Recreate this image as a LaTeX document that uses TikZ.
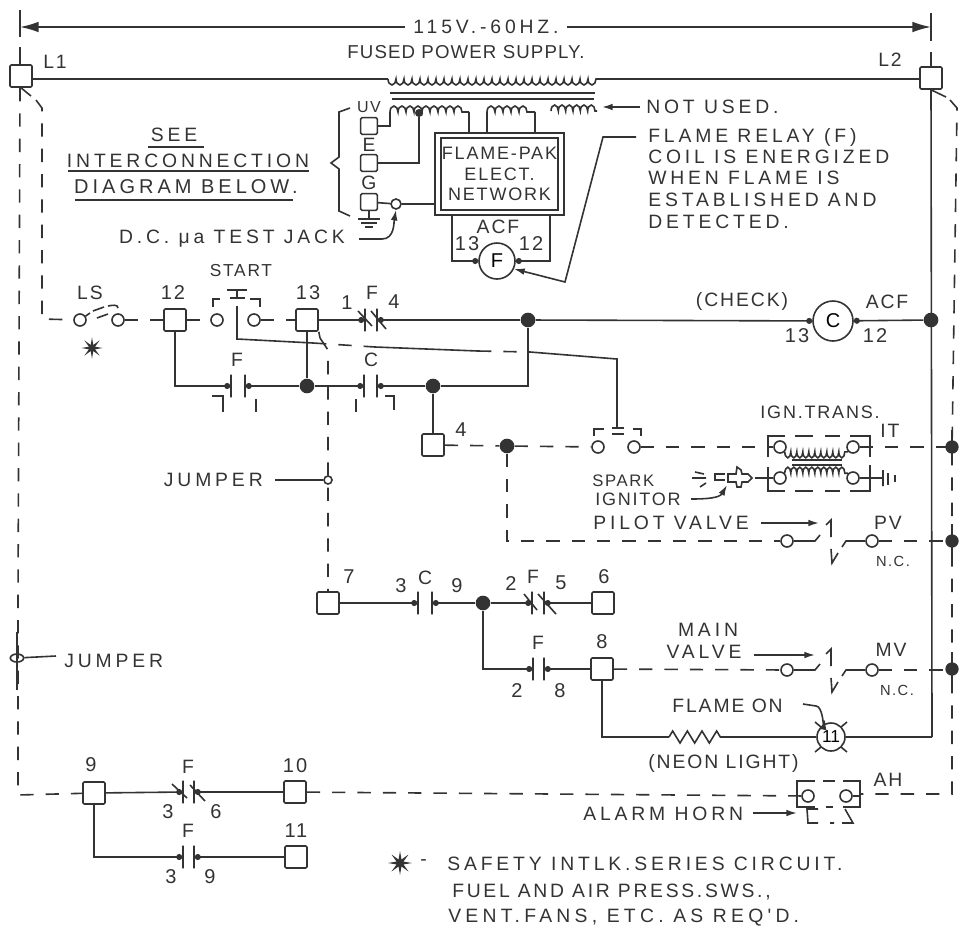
\documentclass[tikz,border=0pt]{standalone}
\usepackage{fontspec}
\setmainfont{Liberation Sans}
\newfontfamily\handfont[LetterSpace=10]{Liberation Sans}
\newfontfamily\handwide[LetterSpace=20]{Liberation Sans}
\usetikzlibrary{arrows.meta,shapes.geometric,decorations.pathmorphing}
\definecolor{ink}{gray}{0.2}
\tikzset{
    lab/.style={inner sep=0pt, text=ink, font=\handfont\fontsize{14.5}{16}\selectfont},
    labwide/.style={inner sep=0pt, text=ink, font=\handwide\fontsize{14.5}{16}\selectfont},
    num/.style={inner sep=0pt, text=ink, font=\handfont\fontsize{15}{16}\selectfont},
    term/.style={draw=ink, line width=1.2pt, fill=white, rounded corners=1pt, minimum size=16.5pt, inner sep=0pt},
    smallterm/.style={term, minimum size=12.5pt},
    pin/.style={circle, draw=ink, line width=1.2pt, fill=white, minimum size=9pt, inner sep=0pt},
    dot/.style={circle, fill=ink, minimum size=11pt, inner sep=0pt},
    plate/.style={draw=ink, line width=1.2pt, minimum height=17pt, minimum width=0pt, inner sep=0pt},
    coilcirc/.style={circle, draw=ink, line width=1.2pt, fill=white, minimum size=27pt, inner sep=0pt},
    wire/.style={draw=ink, line width=1.2pt},
    dashwire/.style={wire, dash pattern=on 10pt off 9pt},
    blob/.style={wire, -{Circle[length=4.5pt]}},
    pointer/.style={wire, -{Latex[length=8pt,width=5pt]}},
    humps/.style={wire, decorate, decoration={bumps, segment length=#1, amplitude=4.5pt}},
    sixpt/.style={star, star points=8, star point ratio=3.2, fill=ink, minimum size=16pt, inner sep=0pt},
}

\begin{document}
\begin{tikzpicture}[x=0.75pt, y=-0.75pt]
    \useasboundingbox (0,0) rectangle (969,932);

    % supply
    \node[labwide] (volts) at (486,27) {115V.-60HZ.};
    \node[lab, font=\handfont\fontsize{14}{16}\selectfont\addfontfeature{LetterSpace=6}] (fused) at (466,52) {FUSED POWER SUPPLY.};
    \coordinate (dimL) at (20,27);
    \coordinate (dimR) at (931,27);
    \draw[pointer, -{Latex[length=14pt,width=8pt]}] (volts.west) ++ (-8,0) -- (dimL);
    \draw[pointer, -{Latex[length=14pt,width=8pt]}] (volts.east) ++ (8,0) -- (dimR);
    \draw[wire] (20,10) -- (20,37) (931,13) -- (931,41) (20,47) -- (20,65) (931,52) -- (931,67);

    \node[term] (L1) at (21,76) {};
    \node[term] (L2) at (931,78) {};
    \node[lab] (L1txt) at (55,62) {L1};
    \node[lab] (L2txt) at (890,60) {L2};

    \coordinate (priL) at (388,79);
    \coordinate (priR) at (597,79);
    \draw[wire] (L1.east |- priL) -- (priL);
    \draw[wire] (priR) -- (L2.west |- priR);
    \draw[humps=12pt, decoration={mirror}] (priL) -- (priR);
    \draw[wire] (390,93) -- (595,93) (392,99) -- (594,99);

    % secondaries
    \node[lab, font=\handfont\fontsize{12}{13}\selectfont] (uvtxt) at (369,107) {UV};
    \node[lab] (etxt) at (369,145) {E};
    \node[lab] (gtxt) at (369,183) {G};
    \node[smallterm] (uv) at (369,126) {};
    \node[smallterm] (e) at (369,163) {};
    \node[smallterm] (g) at (369,202) {};
    \node[circle, fill=ink, minimum size=6pt, inner sep=0pt] (tap) at (419,113) {};
    \coordinate (sec1L) at (390,112);
    \coordinate (sec1R) at (469,112);
    \coordinate (sec2L) at (487,112);
    \coordinate (sec2R) at (535,112);
    \coordinate (sec3L) at (551,111);
    \coordinate (sec3R) at (597,111);
    \draw[humps=12pt] (sec1L) -- (sec1R);
    \draw[humps=12pt] (sec2L) -- (sec2R);
    \draw[humps=11pt] (sec3L) -- (sec3R);
    \draw[wire] (uv) -| (sec1L);
    \draw[wire] (e) -| (tap);
    \draw[wire] (350,108) -- (339,112) -- (339,157) -- (331,163) -- (339,169) -- (339,211) -- (350,216);

    \node[draw=ink, line width=1.2pt, minimum width=96.5pt, minimum height=61.5pt, inner sep=0pt] (net) at (499.5,174) {};
    \node[draw=ink, line width=1.2pt, minimum width=88pt, minimum height=54pt, align=center, text=ink, inner sep=0pt, font=\handfont\fontsize{13.5}{15}\selectfont] (netin) at (499.5,174) {FLAME-PAK\\[0.5pt]ELECT.\\[0.5pt]NETWORK};
    \draw[wire] (sec1R) -- (sec1R |- net.north);
    \draw[wire] (sec2L) -- (sec2L |- net.north);
    \draw[wire] (sec2R) -- (sec2R |- net.north);

    \node[pin, minimum size=7.5pt] (jack) at (396,204) {};
    \draw[wire] (g) -- (jack);
    \draw[wire] (jack) -- (net.west |- jack);
    \draw[wire] (g) -- (369,219);
    \draw[wire] (358,219) -- (380,219) (361,223) -- (377,223) (365,227) -- (373,227);
    \node[labwide] (jacktxt) at (232,239) {D.C. μa TEST JACK};
    \draw[pointer] (359,239) -- (382,239) to[out=0, in=-100] (jack.south);

    \node[coilcirc] (relay) at (497,261) {\fontsize{15}{16}\selectfont F};
    \node[lab] (acfa) at (498,227) {ACF};
    \node[num] (n13a) at (467,244) {13};
    \node[num] (n12a) at (531,244) {12};
    \coordinate (netL) at (452,215);
    \coordinate (netR) at (550,215);
    \draw[blob] (netL) |- (relay.west);
    \draw[blob] (netR) |- (relay.east);

    \node[labwide, anchor=west] (notused) at (646,107) {NOT USED.};
    \coordinate (nuend) at (602,107);
    \draw[pointer] (notused.west) ++ (-6,0) -- (nuend);
    \node[labwide, anchor=west] (fr1) at (648,137) {FLAME RELAY (F)};
    \node[labwide, anchor=west] (fr2) at (648,157) {COIL IS ENERGIZED};
    \node[labwide, anchor=west] (fr3) at (648,178) {WHEN FLAME IS};
    \node[labwide, anchor=west] (fr4) at (648,200) {ESTABLISHED AND};
    \node[labwide, anchor=west] (fr5) at (648,222) {DETECTED.};
    \draw[pointer] (fr1.west) ++ (-12,0) -- (603,137) -- (565,282) -- (relay.-25);

    \node[labwide] (see) at (174,135) {SEE};
    \node[labwide] (inter) at (188,161) {INTERCONNECTION};
    \node[labwide, font=\handwide\fontsize{15}{16}\selectfont] (below) at (186,187) {DIAGRAM BELOW.};
    \draw[wire] (148,147) -- (204,147) (68,171) -- (309,171) (75,200) -- (293,200);

    % top rung
    \node[pin] (lsa) at (80,320) {};
    \node[pin] (lsb) at (118,320) {};
    \coordinate (L1drop) at (42,319);
    \draw[wire] (L1.south) -- (31,96);
    \draw[dashwire] (36,100) -- (42,108) -- (L1drop) -- (lsa);
    \draw[wire] (lsa) -- (90,313) (93,311) -- (104,307) (97,318) -- (108,314);
    \draw[wire] (108,306) to[out=10, in=90] (118,308);
    \node[lab] (lstxt) at (90,293) {LS};
    \node[sixpt] (star1) at (92,348) {};
    \node[term] (t12) at (175,320) {};
    \node[num] (t12txt) at (173,293) {12};
    \node[pin] (sta) at (217,320) {};
    \node[pin] (stb) at (254,320) {};
    \node[term] (t13) at (307,320) {};
    \node[num] (t13txt) at (308,293) {13};
    \draw[dashwire] (lsb) -- (t12);
    \draw[dashwire] (t12) -- (sta);
    \draw[dashwire] (stb) -- (t13);
    \node[lab, font=\handfont\fontsize{13}{15}\selectfont] (starttxt) at (241,271) {START};
    \draw[wire] (220,299) -- (213,299) -- (213,307) (250,299) -- (260,299) -- (260,307);
    \draw[wire] (227,290) -- (247,290) (237,290) -- (237,298) (230,298) -- (245,298);

    \node[plate] (f4a) at (365,320) {};
    \node[plate] (f4b) at (377,320) {};
    \node[dot] (n1) at (528,320) {};
    \node[coilcirc, minimum size=30pt] (check) at (833,321) {\fontsize{15}{16}\selectfont C};
    \node[dot] (n2) at (931,320) {};
    \draw[blob] (t13) -- (f4a);
    \draw[blob] (n1) -- (f4b);
    \draw[wire] (358,311) -- (372,326) (371,311) -- (386,329);
    \draw[blob] (n1) -- (check);
    \draw[blob] (n2) -- (check);
    \node[num] (f41) at (347,303) {1};
    \node[lab] (f4f) at (372,293) {F};
    \node[num] (f44) at (394,302) {4};
    \node[lab] (checktxt) at (742,301) {(CHECK)};
    \node[num] (c13) at (797,336) {13};
    \node[lab] (acfc) at (887,302) {ACF};
    \node[num] (c12) at (875,336) {12};

    % second rung
    \node[plate] (f1a) at (231,386) {};
    \node[plate] (f1b) at (245,386) {};
    \node[dot] (n3) at (307,386) {};
    \node[plate] (c1a) at (364,386) {};
    \node[plate] (c1b) at (377,386) {};
    \node[dot] (n4) at (433,386) {};
    \node[term] (t4) at (433,445) {};
    \node[num] (t4txt) at (461,430) {4};
    \draw[blob] (t12) |- (f1a);
    \draw[blob] (n3) -- (f1b);
    \draw[blob] (n3) -- (c1a);
    \draw[blob] (n4) -- (c1b);
    \draw[wire] (t13) -- (n3);
    \draw[wire] (n4) -- (t4);
    \draw[wire] (n4) -| (n1);
    \node[lab] (f1txt) at (237,360) {F};
    \node[lab] (c1txt) at (371,360) {C};
    \draw[wire] (212,396) -- (223,396) -- (223,412) (256,399) -- (256,412) (356,399) -- (356,412) (385,396) -- (394,396) -- (394,410);

    % start stem
    \coordinate (stem) at (237,306);
    \coordinate (stem1) at (237,339);
    \coordinate (stem2) at (313,343);
    \coordinate (stem3) at (375,347);
    \coordinate (stem4) at (478,351);
    \coordinate (stem5) at (530,352);
    \coordinate (stem6) at (617,359);
    \coordinate (stem7) at (617,427);
    \draw[wire] (stem) -- (stem1) -- (stem2);
    \draw[dashwire] (stem2) -- (stem3);
    \draw[wire] (stem3) -- (stem4);
    \draw[dashwire] (stem4) -- (stem5);
    \draw[wire] (stem5) -- (stem6) -- (stem7);

    % jumper from 13 down to 7
    \node[term] (t7) at (328,603) {};
    \node[num] (t7txt) at (349,577) {7};
    \coordinate (jmp) at (328,350);
    \draw[wire] (t13.south east) -- (320,338);
    \draw[dashwire] (320,338) -- (jmp) -- (t7);
    \node[circle, draw=ink, line width=1.2pt, fill=white, minimum size=6pt, inner sep=0pt] (jmpa) at (328,480) {};
    \node[labwide, anchor=east] (jmpatxt) at (263,480) {JUMPER};
    \draw[wire] (jmpatxt.east) ++ (12,0) -- (jmpa);

    % ignition
    \node[dot] (n5) at (507,446) {};
    \node[pin] (ita) at (598,447) {};
    \node[pin] (itb) at (634,447) {};
    \node[pin] (it1) at (780,447) {};
    \node[pin] (it2) at (853,447) {};
    \node[pin] (it3) at (780,478) {};
    \node[pin] (it4) at (853,478) {};
    \draw[dashwire] (t4) -- (n5);
    \draw[dashwire] (n5) -- (ita);
    \draw[dashwire] (itb) -- (it1);
    \draw[dashwire] (it2) -- (952,447);
    \draw[wire] (604,429) -- (594,429) -- (594,436) (612,428) -- (624,428) (612,434) -- (624,434) (633,429) -- (641,429) -- (641,436);
    \draw[humps=9pt, decoration={mirror}] (it1.-45) -- (it2.-135);
    \draw[humps=9pt] (it3.45) -- (it4.135);
    \draw[wire] (792,460) -- (842,460) (792,465) -- (842,465);
    \draw[wire] (768,457) -- (768,436) -- (785,436) (795,436) -- (813,436) (825,436) -- (840,436) (850,436) -- (870,436) -- (870,457);
    \draw[wire] (768,467) -- (768,491) -- (785,491) (795,491) -- (813,491) (825,491) -- (840,491) (850,491) -- (870,491) -- (870,465);
    \node[lab, font=\handfont\fontsize{13.5}{15}\selectfont] (igntxt) at (820,412) {IGN.TRANS.};
    \node[lab] (ittxt) at (890,431) {IT};
    \node[plate, minimum height=12pt] (gnd) at (883,478) {};
    \draw[wire] (it4) -- (gnd);
    \draw[wire] (888,473) -- (888,485) (895,475) -- (895,482);
    \draw[wire] (755,478) -- (it3);
    \draw[wire] (695,472) -- (704,474) (692,478) -- (706,478) (700,487) -- (706,483);
    \draw[wire] (725,474) -- (715,474) -- (715,480) -- (725,480);
    \draw[wire] (728,474) -- (736,474) -- (737,467) -- (741,470) -- (742,474) -- (748,474) -- (752,478) -- (748,482) -- (742,482) -- (741,487) -- (737,487) -- (736,482) -- (728,482) -- cycle;
    \node[lab, anchor=west, font=\handfont\fontsize{12.5}{15}\selectfont] (sparka) at (592,481) {SPARK};
    \node[lab, anchor=west, font=\handfont\fontsize{13.5}{15}\selectfont] (sparkb) at (595,499) {IGNITOR};
    \draw[pointer] (sparkb.east) ++ (10,0) to[out=0, in=-120] (727,485);

    % valves
    \node[labwide, anchor=west] (pilottxt) at (593,523) {PILOT VALVE};
    \draw[pointer] (pilottxt.east) ++ (12,0) -- (819,523);
    \node[labwide] (mv1) at (708,630) {MAIN};
    \node[labwide] (mv2) at (704,652) {VALVE};
    \draw[pointer] (mv2.east) ++ (12,3) -- (815,655);
    \node[lab] (pvtxt) at (888,523) {PV};
    \node[lab] (mvtxt) at (891,650) {MV};
    \node[lab, font=\handfont\fontsize{11}{12}\selectfont] (nc1) at (893,561) {N.C.};
    \node[lab, font=\handfont\fontsize{11}{12}\selectfont] (nc2) at (897,690) {N.C.};
    \foreach \vy in {541,670} {
        \node[pin] (va\vy) at (787,\vy) {};
        \node[pin] (vb\vy) at (872,\vy) {};
        \draw[wire] (va\vy) -- ++(28,0) -- ++(5,-6);
        \draw[wire] (vb\vy) -- ++(-26,0) -- ++(-4,6);
        \draw[wire] (826,\vy-16) -- (831,\vy-21) -- (831,\vy-4);
        \draw[wire] (831,\vy+8) -- (832,\vy+22) -- (838,\vy+12);
    }
    \draw[dashwire] (n5) |- (va541);
    \draw[dashwire] (vb541) -- (952,541);
    \draw[dashwire] (vb670) -- (952,670);

    % third rung
    \node[plate] (c2a) at (418,603) {};
    \node[plate] (c2b) at (432,603) {};
    \node[dot] (n6) at (483,603) {};
    \node[plate] (f2a) at (532,603) {};
    \node[plate] (f2b) at (544,603) {};
    \node[term] (t6) at (603,603) {};
    \node[plate] (f3a) at (533,669) {};
    \node[plate] (f3b) at (544,669) {};
    \node[term] (t8) at (602,669) {};
    \draw[blob] (t7) -- (c2a);
    \draw[blob] (n6) -- (c2b);
    \draw[blob] (n6) -- (f2a);
    \draw[blob] (t6) -- (f2b);
    \draw[wire] (524,594) -- (537,610) (538,594) -- (556,614);
    \draw[blob] (n6) |- (f3a);
    \draw[blob] (t8) -- (f3b);
    \draw[dashwire] (t8) -- (va670);
    \node[num] (n3c) at (401,586) {3};
    \node[lab] (c2txt) at (425,578) {C};
    \node[num] (n9c) at (457,586) {9};
    \node[num] (n2f) at (511,584) {2};
    \node[lab] (f2txt) at (533,577) {F};
    \node[num] (n5f) at (561,583) {5};
    \node[num] (t6txt) at (604,577) {6};
    \node[lab] (f3txt) at (538,643) {F};
    \node[num] (n2g) at (517,691) {2};
    \node[num] (n8g) at (560,691) {8};
    \node[num] (t8txt) at (602,642) {8};

    % neon light
    \node[coilcirc, minimum size=21pt] (lamp) at (831,737) {\fontsize{13}{14}\selectfont 11};
    \coordinate (resL) at (669,737);
    \coordinate (resR) at (725,737);
    \draw[wire] (t8) |- (resL);
    \draw[wire, decorate, decoration={zigzag, segment length=11pt, amplitude=4.5pt}] (resL) -- (resR);
    \draw[wire] (resR) -- (lamp);
    \draw[wire] (lamp) -- (932,737);
    \draw[wire] (821,727) -- (815,722) (841,727) -- (847,722) (821,747) -- (815,752) (841,747) -- (847,752);
    \node[lab, anchor=west] (flametxt) at (672,706) {FLAME ON};
    \draw[pointer] (803,704) -- (816,706) to[out=0, in=-100] (825,719);
    \node[lab, anchor=west] (neontxt) at (648,763) {(NEON LIGHT)};

    % L2 rails
    \draw[wire] (L2.south) -- (932,737);
    \draw[wire] (L2.south) -- (946,97);
    \draw[dashwire] (950,100) -- (957,108) -- (952,450) -- (952,794) -- (860,794);
    \foreach \ry/\rname in {447/ra,541/rb,669/rc} {
        \node[dot, minimum size=10pt] (\rname) at (952,\ry) {};
        \draw[wire] (952,\ry-17) -- (952,\ry+17);
    }

    % bottom rungs
    \node[term] (t9) at (94,793) {};
    \node[term] (t10) at (295,792) {};
    \node[term] (t11) at (296,857) {};
    \node[plate] (f5a) at (183,792) {};
    \node[plate] (f5b) at (194,792) {};
    \node[plate] (f6a) at (183,857) {};
    \node[plate] (f6b) at (194,857) {};
    \draw[blob] (t9) -- (f5a);
    \draw[blob] (t10) -- (f5b);
    \draw[blob] (t9) |- (f6a);
    \draw[blob] (t11) -- (f6b);
    \draw[wire] (172,784) -- (187,798) (190,785) -- (205,801);
    \node[num] (t9txt) at (91,765) {9};
    \node[num] (t10txt) at (295,766) {10};
    \node[num] (t11txt) at (296,831) {11};
    \node[lab] (f5txt) at (188,767) {F};
    \node[lab] (f6txt) at (188,831) {F};
    \node[num] (n35) at (168,812) {3};
    \node[num] (n65) at (216,812) {6};
    \node[num] (n36) at (171,877) {3};
    \node[num] (n96) at (210,877) {9};

    % left rail
    \draw[dashwire] (20,88) -- (18,600) -- (18,795) -- (t9);
    \draw[wire] (17,632) -- (17,690);
    \node[ellipse, draw=ink, line width=1.2pt, minimum width=10pt, minimum height=6pt, inner sep=0pt] (jmpb) at (17,658) {};
    \node[labwide, anchor=west] (jmpbtxt) at (64,661) {JUMPER};
    \draw[wire] (jmpb) -- (56,656);

    % alarm horn
    \node[pin] (ah1) at (808,796) {};
    \node[pin] (ah2) at (846,796) {};
    \draw[dashwire] (t10) -- (ah1);
    \draw[wire] (ah2) -- (860,796);
    \draw[wire] (815,781) -- (797,781) -- (797,807) -- (815,807) (823,781) -- (835,781) (843,781) -- (860,781) -- (860,807) -- (843,807) (826,807) -- (833,807);
    \draw[wire] (818,809) -- (807,809) -- (808,823) -- (818,823) (830,823) -- (834,823) (845,809) -- (853,823) -- (842,823);
    \node[lab] (ahtxt) at (888,780) {AH};
    \node[labwide, anchor=west] (horntxt) at (583,814) {ALARM HORN};
    \draw[pointer] (horntxt.east) ++ (10,-1) -- (797,813);

    % note
    \node[sixpt, minimum size=18pt] (star2) at (400,863) {};
    \node[lab, anchor=west] (note0) at (420,863) {-};
    \node[labwide, anchor=west] (note1) at (447,864) {SAFETY INTLK.SERIES CIRCUIT.};
    \node[lab, anchor=west, font=\handfont\fontsize{14.5}{16}\selectfont\addfontfeature{LetterSpace=14}] (note2) at (452,892) {FUEL AND AIR PRESS.SWS.,};
    \node[labwide, anchor=west, font=\handwide\fontsize{14.5}{16}\selectfont\addfontfeature{LetterSpace=22}] (note3) at (448,918) {VENT.FANS, ETC. AS REQ'D.};
\end{tikzpicture}
\end{document}
